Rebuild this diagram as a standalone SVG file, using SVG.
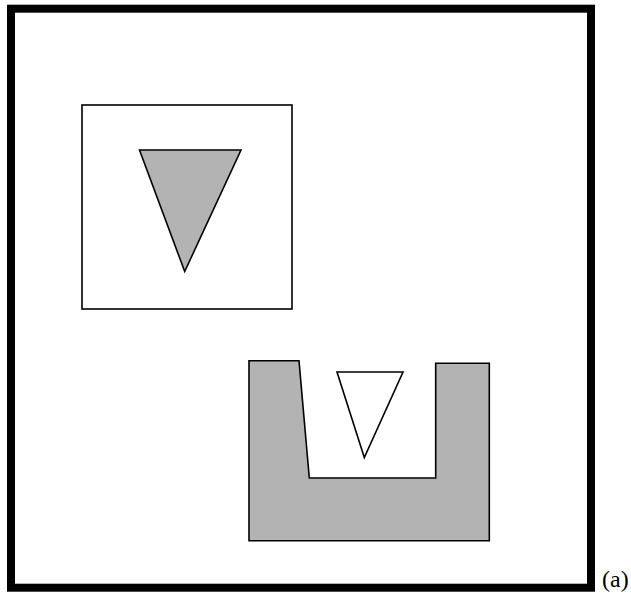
<svg xmlns="http://www.w3.org/2000/svg" width="631" height="593" viewBox="0 0 631 593">
<style>
.shape{stroke:#000;stroke-width:1.6;stroke-linejoin:miter}
.gray{fill:#b3b3b3}
.white{fill:#fff}
</style>
<rect width="631" height="593" fill="#fff"/>
<g id="frame"><rect x="11" y="8.7" width="580" height="579" fill="none" stroke="#000" stroke-width="8"/></g>
<g id="box"><rect class="shape white" x="82" y="105" width="210" height="204"/></g>
<g id="triangle1"><polygon class="shape gray" points="139.5,150 241,150 184.7,271.5"/></g>
<g id="ushape"><polygon class="shape gray" points="249,360.7 299,360.7 309.3,478 435.7,478 435.7,363.3 489.3,363.3 489.3,540.7 249,540.7"/></g>
<g id="triangle2"><polygon class="shape white" points="337,372 403,372 364.3,457.5"/></g>
<g id="label"><text x="602" y="586.5" font-family="Liberation Serif, serif" font-size="24">(a)</text></g>
<g id="connectors"/>
</svg>
